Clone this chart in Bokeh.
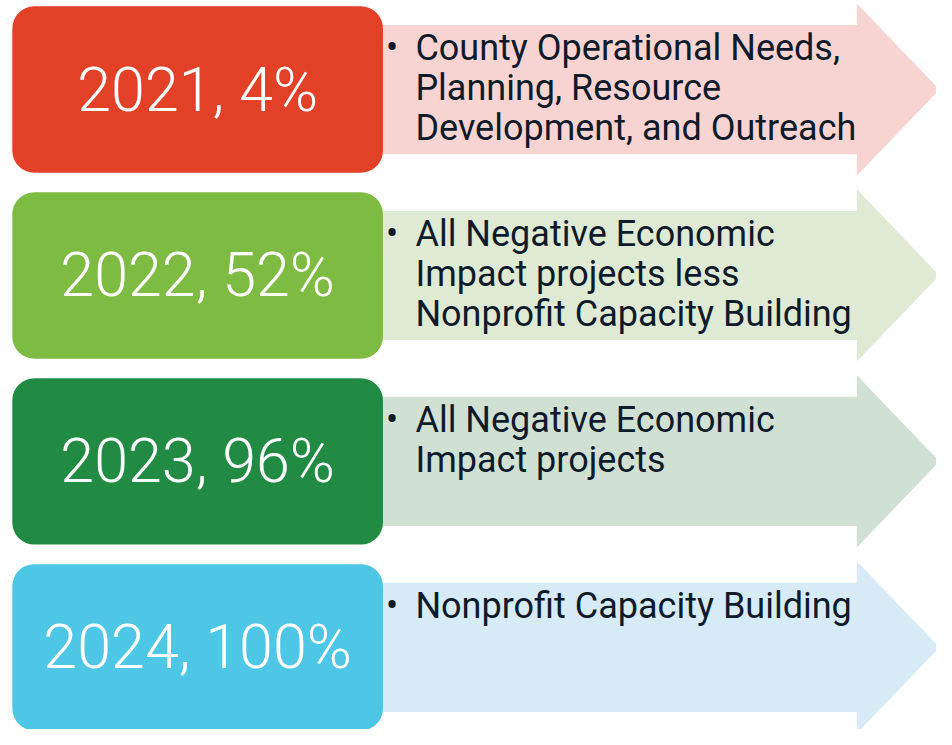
from bokeh.plotting import figure
from bokeh.models import Range1d, ColumnDataSource
from bokeh.core.properties import value
from bokeh.embed import file_html
from bokeh.resources import INLINE

years = ["2021", "2022", "2023", "2024"]
percents = ["4%", "52%", "96%", "100%"]
descriptions = [
    "County Operational Needs,\nPlanning, Resource\nDevelopment, and Outreach",
    "All Negative Economic\nImpact projects less\nNonprofit Capacity Building",
    "All Negative Economic\nImpact projects",
    "Nonprofit Capacity Building",
]
box_colors = ["#E24027", "#7DBB42", "#218B44", "#4EC6E5"]
arrow_colors = ["#F7D4D2", "#DFEAD4", "#D0E1D4", "#D6EBF5"]

W, H = 952, 745
p = figure(width=936, height=729, output_backend="svg", toolbar_location=None,
           x_range=Range1d(0, W), y_range=Range1d(H, 0), min_border=0)
p.axis.visible = False
p.grid.visible = False
p.outline_line_color = None
p.background_fill_color = "white"

step = 190
n = len(years)
tops = [6 + i * step for i in range(n)]
bottoms = [t + 170 for t in tops]
mids = [t + 85 for t in tops]

# arrows
xs, ys = [], []
for m in mids:
    x0, xh, xt = 385, 871, 955
    bh, hh = 66, 88
    xs.append([x0, xh, xh, xt, xh, xh, x0])
    ys.append([m - bh, m - bh, m - hh, m, m + hh, m + bh, m + bh])
p.patches(xs, ys, fill_color=arrow_colors, line_color=None)

# boxes
src = ColumnDataSource(dict(left=[12] * n, right=[389] * n, top=tops, bottom=bottoms,
                            color=box_colors, mid=mids,
                            label=[f"{y}, {pc}" for y, pc in zip(years, percents)],
                            desc=descriptions, texty=[t + 21 for t in tops],
                            cx=[200.5] * n, tx=[422] * n, bx=[392] * n,
                            bullet=["•"] * n))
p.quad(left="left", right="right", top="top", bottom="bottom", fill_color="color",
       line_color=None, border_radius=22, source=src)

p.text(x="cx", y="mid", text="label", text_color="white", text_font=value("Roboto Light"),
       text_font_size="61px", text_align="center", text_baseline="middle", source=src)

p.text(x="bx", y="texty", text="bullet", text_color="#0F1A2A", text_font=value("Roboto"),
       text_font_size="36px", text_align="left", text_baseline="top", source=src)
p.text(x="tx", y="texty", text="desc", text_color="#0F1A2A", text_font=value("Roboto"),
       text_font_size="36px", text_align="left", text_baseline="top",
       text_line_height=0.95, source=src)

open("out.html", "w").write(file_html(p, INLINE))
